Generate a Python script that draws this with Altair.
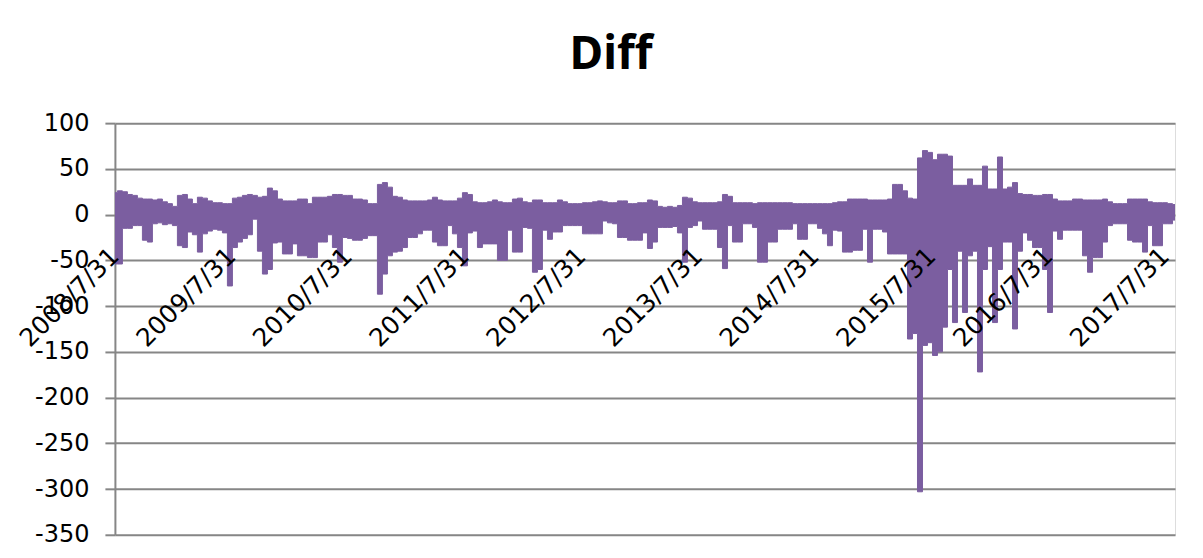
import altair as alt
import pandas as pd

title_text = "Diff"
x_tick_labels = ["2008/7/31", "2009/7/31", "2010/7/31", "2011/7/31", "2012/7/31",
                 "2013/7/31", "2014/7/31", "2015/7/31", "2016/7/31", "2017/7/31"]
y_ticks = [-350, -300, -250, -200, -150, -100, -50, 0, 50, 100]

# upper / lower envelope of the daily Diff series
upper = [24, 26, 25, 22, 21, 18, 17, 17, 16, 17, 14, 12, 9, 21, 22, 17, 12, 19, 18, 15,
         13, 13, 12, 12, 18, 19, 21, 22, 21, 19, 20, 29, 26, 17, 15,
         15, 15, 17, 17, 12, 19, 19, 19, 20, 22, 22, 21, 21, 17, 17, 16, 12, 12, 33, 35,
         30, 20, 19, 16, 15, 15, 15, 15, 16, 19, 16, 15, 15, 15, 18, 24,
         22, 14, 13, 13, 14, 16, 14, 13, 13, 17, 18, 14, 13, 16, 16, 13, 13, 13, 16, 14,
         12, 12, 12, 13, 13, 14, 15, 14, 13, 13, 15, 15, 12, 12, 13, 13,
         16, 15, 9, 8, 9, 8, 10, 19, 18, 14, 13, 13, 13, 13, 14, 22, 20, 13, 13, 13,
         13, 12, 13, 13, 13, 13, 13, 13, 13, 12, 12, 12, 12, 12, 12, 12,
         12, 13, 14, 14, 17, 17, 17, 17, 16, 16, 16, 16, 17, 33, 33, 26, 18, 17, 62, 70,
         68, 60, 66, 66, 64, 32, 32, 32, 39, 32, 32, 53, 28, 28, 63, 28,
         30, 35, 23, 22, 22, 21, 21, 22, 22, 17, 15, 15, 15, 17, 17, 16, 16, 16, 16, 17,
         14, 12, 12, 12, 17, 17, 17, 17, 14, 13, 13, 13, 12, 11]
lower = [-54, -54, -15, -15, -12, -12, -28, -30, -10, -9, -11, -10, -12, -34, -36, -19, -22, -41, -21, -18,
         -16, -17, -20, -78, -36, -30, -26, -22, -5, -40, -65, -60, -31, -30, -43,
         -43, -32, -45, -45, -47, -47, -30, -30, -22, -36, -52, -25, -26, -28, -28, -26, -23, -23, -87, -65,
         -45, -41, -40, -36, -25, -25, -21, -17, -17, -30, -34, -34, -12, -21, -36, -56,
         -20, -18, -36, -32, -32, -32, -50, -50, -17, -41, -41, -14, -15, -63, -60, -17, -27, -19, -19, -12,
         -12, -12, -12, -21, -21, -21, -21, -7, -9, -10, -25, -25, -28, -28, -28, -20,
         -37, -30, -14, -14, -14, -13, -20, -52, -14, -12, -7, -16, -16, -16, -36, -59, -12, -30, -30, -10,
         -10, -14, -52, -52, -30, -30, -16, -16, -16, -10, -27, -27, -10, -10, -15, -21,
         -34, -17, -18, -41, -41, -39, -39, -16, -52, -16, -16, -19, -43, -43, -43, -43, -136, -130, -303, -143,
         -140, -154, -150, -123, -60, -118, -40, -107, -45, -40, -172, -60, -35, -118, -60, -30,
         -30, -125, -40, -20, -28, -36, -36, -60, -107, -18, -27, -17, -17, -17, -17, -45, -63, -47, -47, -30,
         -12, -10, -10, -10, -28, -30, -30, -41, -12, -34, -34, -10, -10, -6]

dates = pd.date_range("2008-07-31", "2017-08-31", periods=len(upper))
df = pd.DataFrame({"date": dates, "low": lower, "high": upper})

x_tick_dates = []
for s in x_tick_labels:
    yy, mm, dd = (int(p) for p in s.split("/"))
    x_tick_dates.append(alt.DateTime(year=yy, month=mm, date=dd))

grey = "#868686"

chart = alt.Chart(df).mark_area(
    color="#7B5EA0", interpolate="step", clip=True,
    stroke="#7B5EA0", strokeWidth=1
).encode(
    x=alt.X("date:T",
            scale=alt.Scale(nice=False),
            axis=alt.Axis(values=x_tick_dates, format="%Y/%-m/%-d", labelAngle=-45,
                          offset=-320, domain=False, ticks=False, grid=False, title=None,
                          labelFont="DejaVu Sans", labelFontSize=25, labelColor="#000000",
                          labelPadding=28, labelOffset=-9, labelFlush=False,
                          labelOverlap=False, labelBound=False, zindex=1)),
    y=alt.Y("low:Q",
            scale=alt.Scale(domain=[-350, 100], nice=False, zero=False),
            axis=alt.Axis(values=y_ticks, title=None, grid=True, gridColor=grey, gridWidth=2,
                          domainColor=grey, domainWidth=2, tickColor=grey, tickWidth=2,
                          tickSize=10, labelFont="DejaVu Sans", labelFontSize=24,
                          labelColor="#000000", labelPadding=16,
                          labelExpr="toString(datum.value)")),
    y2="high:Q",
).properties(
    width=1061,
    height=412,
    title=alt.Title(title_text, font="Noto Sans", fontSize=46, fontWeight="bold",
                    color="#000000", anchor="middle", dx=-34, offset=42, dy=46,
                    baseline="alphabetic"),
    autosize=alt.AutoSizeParams(type="none"),
    padding={"left": 107, "top": 115, "right": 20, "bottom": 15},
).configure_view(stroke=None).configure(background="white")

chart.save("out.html", embed_options={"renderer": "svg", "actions": False})
